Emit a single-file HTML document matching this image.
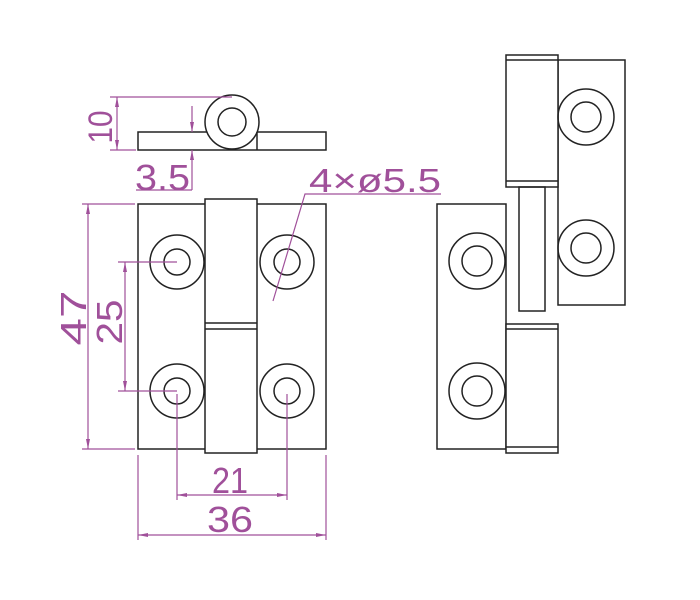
<!DOCTYPE html>
<html><head><meta charset="utf-8"><style>
html,body{margin:0;padding:0;background:#fff;}
svg{display:block;}
text{font-family:"Liberation Sans","DejaVu Sans",sans-serif;fill:#a0509a;}
</style></head><body>
<svg width="700" height="600" viewBox="0 0 700 600" xmlns="http://www.w3.org/2000/svg">
<defs>
<marker id="a" viewBox="0 0 10 4" refX="10" refY="2" markerWidth="10" markerHeight="4" orient="auto-start-reverse" markerUnits="userSpaceOnUse"><path d="M0,0 L10,2 L0,4z" fill="#a0509a"/></marker>
</defs>
<g fill="none" stroke="#222" stroke-width="1.5">
<rect x="138" y="132" width="188" height="18"/>
<circle cx="232" cy="122" r="27" fill="#fff"/>
<circle cx="232" cy="122" r="14"/>
<line x1="257" y1="132" x2="257" y2="150"/>
<rect x="138" y="204" width="188" height="245" fill="#fff"/>
<rect x="205" y="199" width="52" height="254" fill="#fff"/>
<line x1="205" y1="323" x2="257" y2="323"/>
<line x1="205" y1="329" x2="257" y2="329"/>
<circle cx="177" cy="262" r="27"/><circle cx="177" cy="262" r="13"/>
<circle cx="287" cy="262" r="27"/><circle cx="287" cy="262" r="13"/>
<circle cx="177" cy="391" r="27"/><circle cx="177" cy="391" r="13"/>
<circle cx="287" cy="391" r="27"/><circle cx="287" cy="391" r="13"/>
<rect x="558" y="60" width="67" height="245"/>
<rect x="506" y="55" width="52" height="132" fill="#fff"/>
<line x1="506" y1="60" x2="558" y2="60"/>
<line x1="506" y1="181" x2="558" y2="181"/>
<rect x="519" y="187" width="26" height="124"/>
<circle cx="586" cy="117" r="28"/><circle cx="586" cy="117" r="15"/>
<circle cx="586" cy="248" r="28"/><circle cx="586" cy="248" r="15"/>
<rect x="437" y="204" width="69" height="245"/>
<rect x="506" y="324" width="52" height="129" fill="#fff"/>
<line x1="506" y1="329" x2="558" y2="329"/>
<line x1="506" y1="447" x2="558" y2="447"/>
<circle cx="477" cy="261" r="28"/><circle cx="477" cy="261" r="15"/>
<circle cx="477" cy="391" r="28"/><circle cx="477" cy="391" r="15"/>
</g>
<g fill="none" stroke="#a0509a" stroke-width="1.2">
<line x1="110" y1="97" x2="232" y2="97"/>
<line x1="110" y1="150" x2="136" y2="150"/>
<line x1="117" y1="97" x2="117" y2="150" marker-start="url(#a)" marker-end="url(#a)"/>
<line x1="192" y1="106" x2="192" y2="132" marker-end="url(#a)"/>
<line x1="192" y1="190" x2="192" y2="150" marker-end="url(#a)"/>
<line x1="136" y1="190" x2="192" y2="190"/>
<line x1="82" y1="204" x2="135" y2="204"/>
<line x1="82" y1="449" x2="135" y2="449"/>
<line x1="88" y1="204" x2="88" y2="449" marker-start="url(#a)" marker-end="url(#a)"/>
<line x1="118" y1="262" x2="177" y2="262"/>
<line x1="118" y1="391" x2="177" y2="391"/>
<line x1="125" y1="262" x2="125" y2="391" marker-start="url(#a)" marker-end="url(#a)"/>
<line x1="177" y1="394" x2="177" y2="500"/>
<line x1="287" y1="394" x2="287" y2="500"/>
<line x1="177" y1="495" x2="287" y2="495" marker-start="url(#a)" marker-end="url(#a)"/>
<line x1="138" y1="455" x2="138" y2="540"/>
<line x1="326" y1="455" x2="326" y2="540"/>
<line x1="138" y1="535" x2="326" y2="535" marker-start="url(#a)" marker-end="url(#a)"/>
<polyline points="273,301 305,194 441,194"/>
</g>
<g>
<text transform="translate(112 127) rotate(-90)" text-anchor="middle" font-size="34" textLength="33" lengthAdjust="spacingAndGlyphs">10</text>
<text x="135" y="190" font-size="36" textLength="55" lengthAdjust="spacingAndGlyphs">3.5</text>
<text x="309" y="192" font-size="33" textLength="132" lengthAdjust="spacingAndGlyphs">4×ø5.5</text>
<text x="212" y="493" font-size="36" textLength="36" lengthAdjust="spacingAndGlyphs">21</text>
<text x="207" y="532" font-size="36" textLength="46" lengthAdjust="spacingAndGlyphs">36</text>
<text transform="translate(86 318) rotate(-90)" text-anchor="middle" font-size="36" textLength="55" lengthAdjust="spacingAndGlyphs">47</text>
<text transform="translate(122 322) rotate(-90)" text-anchor="middle" font-size="36" textLength="45" lengthAdjust="spacingAndGlyphs">25</text>
</g>
</svg>
</body></html>
